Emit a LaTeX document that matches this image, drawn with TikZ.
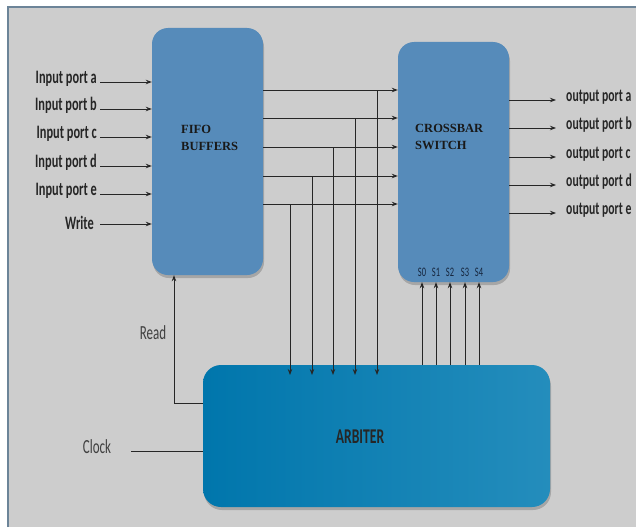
\documentclass[tikz,border=0pt]{standalone}
\usepackage{fontspec}
\setmainfont{Carlito}
\newfontfamily\condfont[FakeStretch=0.65]{Carlito}
\newfontfamily\blockfont{Liberation Serif}
\usetikzlibrary{arrows.meta, positioning, shadows}

\definecolor{bggray}{RGB}{205,205,205}
\definecolor{framecol}{RGB}{108,132,152}
\definecolor{boxblue}{RGB}{86,139,186}
\definecolor{arbleft}{RGB}{0,118,172}
\definecolor{arbright}{RGB}{36,141,188}
\definecolor{sigtext}{RGB}{22,38,62}

\begin{document}
\begin{tikzpicture}[x=1pt, y=-1pt,
    line/.style={draw=black!85, line width=0.9pt},
    arr/.style={line, -{Stealth[length=6pt,width=4.5pt]}},
    block/.style={draw=none, inner sep=0pt, rounded corners=16pt,
        drop shadow={shadow xshift=1pt, shadow yshift=-3pt, opacity=0.5}},
    blocktext/.style={font=\blockfont\bfseries\fontsize{12.5}{17.5}\selectfont,
        text=black!90, align=left, inner sep=0pt},
    port/.style={font=\condfont\bfseries\fontsize{19}{19}\selectfont,
        text=black!85, inner ysep=0pt},
    outport/.style={port, font=\condfont\bfseries\fontsize{18}{18}\selectfont},
    sig/.style={font=\condfont\fontsize{20}{20}\selectfont, text=black!75, inner sep=0pt},
    sel/.style={font=\condfont\fontsize{13}{13}\selectfont, text=sigtext, inner sep=0pt}]

    % 背景
    \useasboundingbox (0,0) rectangle (636,527);
    \fill[white] (0,0) rectangle (636,527);
    \fill[bggray] (8,7) rectangle (636,527);
    \draw[framecol, line width=1.6pt] (8,527) -- (8,7) -- (636,7);

    % 三个模块
    \node[block, fill=boxblue, minimum width=111pt, minimum height=247pt] (fifo) at (207.5,151.5) {};
    \node[block, fill=boxblue, minimum width=111pt, minimum height=240pt] (xbar) at (453.5,162) {};
    \node[block, left color=arbleft, right color=arbright, rounded corners=18pt,
        minimum width=347pt, minimum height=142pt] (arb) at (376.5,436) {};

    \node[blocktext, anchor=north west] (fifotxt) at (181,125) {FIFO\\BUFFERS};
    \node[blocktext, anchor=north west] (xbartxt) at (415,124) {CROSSBAR\\SWITCH};
    \node[font=\condfont\bfseries\fontsize{21}{21}\selectfont, text=black!85, inner sep=0pt]
        (arbtxt) at (360,437) {ARBITER};

    % 输入端口
    \foreach \y/\t in {82/a, 109/b, 137/c, 166/d, 194/e} {
        \node[port, inner xsep=3pt, anchor=base east] (in\t) at (100,\y+1) {Input port \t};
        \draw[arr] (in\t.east |- 0,\y) -- (fifo.west |- 0,\y);
    }
    \node[port, inner xsep=6pt, anchor=base east] (wr) at (100,229) {Write};
    \draw[arr] (wr.east |- 0,224) -- (fifo.west |- 0,224);

    % 输出端口
    \foreach \y/\t in {100/a, 128/b, 157/c, 185/d, 213/e} {
        \node[outport, inner xsep=10pt, anchor=base west] (out\t) at (556,\y+1) {output port \t};
        \draw[arr] (xbar.east |- 0,\y) -- (out\t.west |- 0,\y);
    }

    % FIFO -> CROSSBAR, 并向下接到仲裁器
    \foreach \y/\x in {90/377, 118/355, 147/333, 176/312, 204/290} {
        \draw[arr] (fifo.east |- 0,\y) -- (xbar.west |- 0,\y);
        \draw[arr] (\x,\y) -- (\x,375);
    }

    % 选择信号 S0--S4
    \foreach \x [count=\i from 0] in {421,435,449,464,478} {
        \node[sel] (s\i) at (\x+1,272) {S\i};
        \draw[arr] (s\i |- arb.north) -- (s\i |- xbar.south);
    }

    % Read 和 Clock
    \node[sig] (rd) at (153,333) {Read};
    \draw[arr] (arb.west |- 0,403) -- (174,403) -- (fifo.south -| 174,0);
    \node[sig] (clk) at (97,447) {Clock};
    \coordinate (clkin) at (131,451);
    \draw[line] (clkin) -- (clkin -| arb.west);
\end{tikzpicture}
\end{document}
